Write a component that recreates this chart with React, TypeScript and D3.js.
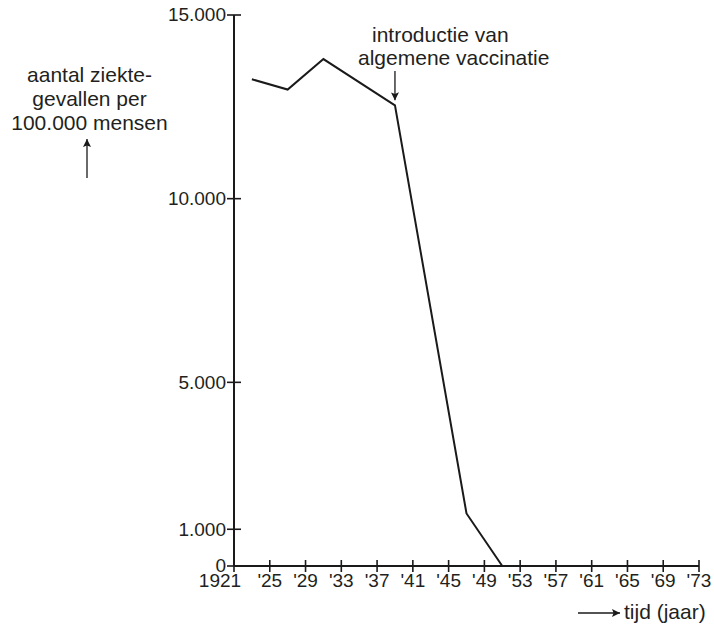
import React from "react";
import * as d3 from "d3";

const years = [1923, 1927, 1931, 1939, 1947, 1951];
const cases = [13250, 12970, 13800, 12540, 1430, 0];
const yTicks = [0, 1000, 5000, 10000, 15000];
const xTicks = [1921, 1925, 1929, 1933, 1937, 1941, 1945, 1949, 1953, 1957, 1961, 1965, 1969, 1973];
const yTitle = ["aantal ziekte-", "gevallen per", "100.000 mensen"];
const annotation = ["introductie van", "algemene vaccinatie"];
const xTitle = "tijd (jaar)";
const vaccinationYear = 1939;

const W = 714;
const H = 627;
const FONT = "'Liberation Sans', Arial, sans-serif";
const TEXT = "#231f20";
const INK = "#1a1a1a";
const TICK_FS = 19;
const LABEL_FS = 21;

const fmtY = (v: number) => (v === 0 ? "0" : d3.format(",")(v).replace(/,/g, "."));
const fmtX = (v: number) => (v === 1921 ? "1921" : "'" + String(v).slice(2));

export default function App() {
  const x = d3.scaleLinear().domain([1921, 1973]).range([234, 699]);
  const y = d3.scaleLinear().domain([0, 15000]).range([566, 15]);
  const line = d3
    .line<number>()
    .x((_, i) => x(years[i]))
    .y((d) => y(d));
  const vIdx = years.indexOf(vaccinationYear);
  const ax = x(vaccinationYear);
  const ay = y(cases[vIdx]);

  return (
    <svg
      width={W}
      height={H}
      style={{ position: "absolute", left: 0, top: 0, background: "#fff" }}
      fontFamily={FONT}
    >
      <defs>
        <marker id="ah" viewBox="0 0 10 10" refX="10" refY="5" markerWidth="8" markerHeight="8" markerUnits="userSpaceOnUse" orient="auto">
          <path d="M0,0 L10,5 L0,10 L2,5 Z" fill={INK} />
        </marker>
      </defs>
      {/* axes */}
      <line x1={x(1921)} x2={x(1921)} y1={y(15000)} y2={y(0)} stroke={INK} strokeWidth={2} />
      <line x1={x(1921)} x2={x(1973)} y1={y(0)} y2={y(0)} stroke={INK} strokeWidth={2} />
      {yTicks.map((t) => (
        <g key={"y" + t}>
          <line x1={x(1921) - 7} x2={x(1921) + (t === 0 ? 0 : 7)} y1={y(t)} y2={y(t)} stroke={INK} strokeWidth={1.6} />
          <text x={x(1921) - 8} y={y(t)} dy="0.33em" textAnchor="end" fontSize={TICK_FS} fill={TEXT}>
            {fmtY(t)}
          </text>
        </g>
      ))}
      {xTicks.map((t) => (
        <g key={"x" + t}>
          <line x1={x(t)} x2={x(t)} y1={y(0) - 6} y2={y(0) + 6} stroke={INK} strokeWidth={1.6} />
          <text x={x(t) + (t === 1921 ? -14 : 0)} y={587} textAnchor="middle" fontSize={TICK_FS} fill={TEXT}>
            {fmtX(t)}
          </text>
        </g>
      ))}
      {/* data line */}
      <path d={line(cases) || ""} fill="none" stroke={INK} strokeWidth={2} strokeLinejoin="miter" />
      {/* annotation */}
      <text x={372} y={42} fontSize={LABEL_FS} fill={TEXT}>{annotation[0]}</text>
      <text x={358} y={65} fontSize={LABEL_FS} fill={TEXT}>{annotation[1]}</text>
      <line x1={ax} x2={ax} y1={71} y2={ay - 5} stroke={INK} strokeWidth={1.3} markerEnd="url(#ah)" />
      {/* y title */}
      {yTitle.map((s, i) => (
        <text key={s} x={89.5} y={82 + i * 24} textAnchor="middle" fontSize={LABEL_FS} fill={TEXT}>
          {s}
        </text>
      ))}
      <line x1={87} x2={87} y1={178} y2={139} stroke={INK} strokeWidth={1.3} markerEnd="url(#ah)" />
      {/* x title */}
      <line x1={578} x2={620} y1={613} y2={613} stroke={INK} strokeWidth={1.3} markerEnd="url(#ah)" />
      <text x={624} y={619} fontSize={LABEL_FS} fill={TEXT}>{xTitle}</text>
    </svg>
  );
}
